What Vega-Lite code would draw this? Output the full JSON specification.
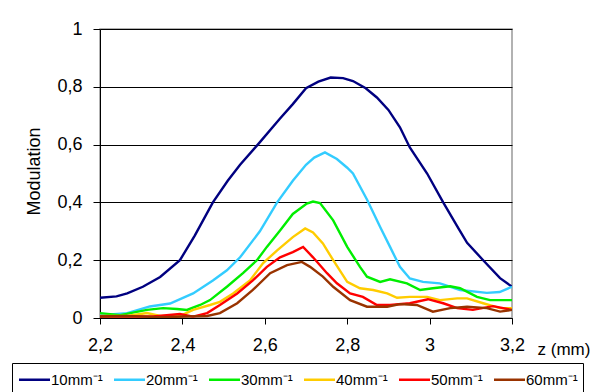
{
  "$schema": "https://vega.github.io/schema/vega-lite/v6.json",
  "width": 412,
  "height": 289,
  "autosize": {"type": "none"},
  "padding": {"left": 100, "top": 29, "right": 79, "bottom": 74},
  "background": "white",
  "config": {
    "font": "Liberation Sans",
    "view": {"stroke": "#999999", "strokeWidth": 1.5}
  },
  "datasets": {
    "d": [
      {"z": 2.200, "m": 0.070, "s": "10mm⁻¹"},
      {"z": 2.240, "m": 0.075, "s": "10mm⁻¹"},
      {"z": 2.266, "m": 0.085, "s": "10mm⁻¹"},
      {"z": 2.304, "m": 0.108, "s": "10mm⁻¹"},
      {"z": 2.346, "m": 0.142, "s": "10mm⁻¹"},
      {"z": 2.394, "m": 0.200, "s": "10mm⁻¹"},
      {"z": 2.430, "m": 0.285, "s": "10mm⁻¹"},
      {"z": 2.474, "m": 0.400, "s": "10mm⁻¹"},
      {"z": 2.510, "m": 0.475, "s": "10mm⁻¹"},
      {"z": 2.540, "m": 0.530, "s": "10mm⁻¹"},
      {"z": 2.583, "m": 0.600, "s": "10mm⁻¹"},
      {"z": 2.637, "m": 0.690, "s": "10mm⁻¹"},
      {"z": 2.668, "m": 0.740, "s": "10mm⁻¹"},
      {"z": 2.700, "m": 0.795, "s": "10mm⁻¹"},
      {"z": 2.730, "m": 0.818, "s": "10mm⁻¹"},
      {"z": 2.760, "m": 0.832, "s": "10mm⁻¹"},
      {"z": 2.790, "m": 0.830, "s": "10mm⁻¹"},
      {"z": 2.814, "m": 0.820, "s": "10mm⁻¹"},
      {"z": 2.845, "m": 0.795, "s": "10mm⁻¹"},
      {"z": 2.872, "m": 0.763, "s": "10mm⁻¹"},
      {"z": 2.900, "m": 0.720, "s": "10mm⁻¹"},
      {"z": 2.928, "m": 0.660, "s": "10mm⁻¹"},
      {"z": 2.952, "m": 0.590, "s": "10mm⁻¹"},
      {"z": 2.994, "m": 0.500, "s": "10mm⁻¹"},
      {"z": 3.033, "m": 0.400, "s": "10mm⁻¹"},
      {"z": 3.070, "m": 0.310, "s": "10mm⁻¹"},
      {"z": 3.091, "m": 0.260, "s": "10mm⁻¹"},
      {"z": 3.130, "m": 0.200, "s": "10mm⁻¹"},
      {"z": 3.171, "m": 0.138, "s": "10mm⁻¹"},
      {"z": 3.200, "m": 0.108, "s": "10mm⁻¹"},

      {"z": 2.200, "m": 0.010, "s": "20mm⁻¹"},
      {"z": 2.266, "m": 0.017, "s": "20mm⁻¹"},
      {"z": 2.321, "m": 0.040, "s": "20mm⁻¹"},
      {"z": 2.370, "m": 0.050, "s": "20mm⁻¹"},
      {"z": 2.426, "m": 0.085, "s": "20mm⁻¹"},
      {"z": 2.474, "m": 0.130, "s": "20mm⁻¹"},
      {"z": 2.508, "m": 0.165, "s": "20mm⁻¹"},
      {"z": 2.540, "m": 0.210, "s": "20mm⁻¹"},
      {"z": 2.588, "m": 0.300, "s": "20mm⁻¹"},
      {"z": 2.630, "m": 0.400, "s": "20mm⁻¹"},
      {"z": 2.668, "m": 0.475, "s": "20mm⁻¹"},
      {"z": 2.700, "m": 0.530, "s": "20mm⁻¹"},
      {"z": 2.720, "m": 0.555, "s": "20mm⁻¹"},
      {"z": 2.746, "m": 0.573, "s": "20mm⁻¹"},
      {"z": 2.775, "m": 0.550, "s": "20mm⁻¹"},
      {"z": 2.800, "m": 0.520, "s": "20mm⁻¹"},
      {"z": 2.814, "m": 0.500, "s": "20mm⁻¹"},
      {"z": 2.848, "m": 0.410, "s": "20mm⁻¹"},
      {"z": 2.880, "m": 0.315, "s": "20mm⁻¹"},
      {"z": 2.904, "m": 0.246, "s": "20mm⁻¹"},
      {"z": 2.928, "m": 0.177, "s": "20mm⁻¹"},
      {"z": 2.952, "m": 0.137, "s": "20mm⁻¹"},
      {"z": 2.984, "m": 0.125, "s": "20mm⁻¹"},
      {"z": 3.025, "m": 0.120, "s": "20mm⁻¹"},
      {"z": 3.074, "m": 0.097, "s": "20mm⁻¹"},
      {"z": 3.139, "m": 0.087, "s": "20mm⁻¹"},
      {"z": 3.170, "m": 0.090, "s": "20mm⁻¹"},
      {"z": 3.200, "m": 0.108, "s": "20mm⁻¹"},

      {"z": 2.200, "m": 0.017, "s": "30mm⁻¹"},
      {"z": 2.249, "m": 0.010, "s": "30mm⁻¹"},
      {"z": 2.314, "m": 0.028, "s": "30mm⁻¹"},
      {"z": 2.353, "m": 0.034, "s": "30mm⁻¹"},
      {"z": 2.387, "m": 0.031, "s": "30mm⁻¹"},
      {"z": 2.411, "m": 0.028, "s": "30mm⁻¹"},
      {"z": 2.443, "m": 0.045, "s": "30mm⁻¹"},
      {"z": 2.467, "m": 0.062, "s": "30mm⁻¹"},
      {"z": 2.508, "m": 0.108, "s": "30mm⁻¹"},
      {"z": 2.547, "m": 0.155, "s": "30mm⁻¹"},
      {"z": 2.581, "m": 0.200, "s": "30mm⁻¹"},
      {"z": 2.605, "m": 0.246, "s": "30mm⁻¹"},
      {"z": 2.637, "m": 0.303, "s": "30mm⁻¹"},
      {"z": 2.668, "m": 0.360, "s": "30mm⁻¹"},
      {"z": 2.702, "m": 0.396, "s": "30mm⁻¹"},
      {"z": 2.717, "m": 0.403, "s": "30mm⁻¹"},
      {"z": 2.734, "m": 0.398, "s": "30mm⁻¹"},
      {"z": 2.766, "m": 0.338, "s": "30mm⁻¹"},
      {"z": 2.800, "m": 0.246, "s": "30mm⁻¹"},
      {"z": 2.831, "m": 0.177, "s": "30mm⁻¹"},
      {"z": 2.848, "m": 0.143, "s": "30mm⁻¹"},
      {"z": 2.880, "m": 0.125, "s": "30mm⁻¹"},
      {"z": 2.904, "m": 0.134, "s": "30mm⁻¹"},
      {"z": 2.945, "m": 0.120, "s": "30mm⁻¹"},
      {"z": 2.977, "m": 0.097, "s": "30mm⁻¹"},
      {"z": 3.008, "m": 0.103, "s": "30mm⁻¹"},
      {"z": 3.050, "m": 0.110, "s": "30mm⁻¹"},
      {"z": 3.074, "m": 0.103, "s": "30mm⁻¹"},
      {"z": 3.115, "m": 0.073, "s": "30mm⁻¹"},
      {"z": 3.147, "m": 0.062, "s": "30mm⁻¹"},
      {"z": 3.200, "m": 0.062, "s": "30mm⁻¹"},

      {"z": 2.200, "m": 0.007, "s": "40mm⁻¹"},
      {"z": 2.266, "m": 0.007, "s": "40mm⁻¹"},
      {"z": 2.314, "m": 0.017, "s": "40mm⁻¹"},
      {"z": 2.346, "m": 0.007, "s": "40mm⁻¹"},
      {"z": 2.394, "m": 0.007, "s": "40mm⁻¹"},
      {"z": 2.426, "m": 0.028, "s": "40mm⁻¹"},
      {"z": 2.467, "m": 0.045, "s": "40mm⁻¹"},
      {"z": 2.491, "m": 0.056, "s": "40mm⁻¹"},
      {"z": 2.523, "m": 0.085, "s": "40mm⁻¹"},
      {"z": 2.564, "m": 0.130, "s": "40mm⁻¹"},
      {"z": 2.596, "m": 0.190, "s": "40mm⁻¹"},
      {"z": 2.630, "m": 0.234, "s": "40mm⁻¹"},
      {"z": 2.668, "m": 0.280, "s": "40mm⁻¹"},
      {"z": 2.698, "m": 0.310, "s": "40mm⁻¹"},
      {"z": 2.717, "m": 0.296, "s": "40mm⁻¹"},
      {"z": 2.741, "m": 0.258, "s": "40mm⁻¹"},
      {"z": 2.766, "m": 0.200, "s": "40mm⁻¹"},
      {"z": 2.800, "m": 0.125, "s": "40mm⁻¹"},
      {"z": 2.831, "m": 0.103, "s": "40mm⁻¹"},
      {"z": 2.863, "m": 0.097, "s": "40mm⁻¹"},
      {"z": 2.897, "m": 0.085, "s": "40mm⁻¹"},
      {"z": 2.921, "m": 0.070, "s": "40mm⁻¹"},
      {"z": 2.952, "m": 0.073, "s": "40mm⁻¹"},
      {"z": 2.994, "m": 0.073, "s": "40mm⁻¹"},
      {"z": 3.025, "m": 0.062, "s": "40mm⁻¹"},
      {"z": 3.067, "m": 0.068, "s": "40mm⁻¹"},
      {"z": 3.091, "m": 0.068, "s": "40mm⁻¹"},
      {"z": 3.130, "m": 0.051, "s": "40mm⁻¹"},
      {"z": 3.171, "m": 0.034, "s": "40mm⁻¹"},
      {"z": 3.200, "m": 0.034, "s": "40mm⁻¹"},

      {"z": 2.200, "m": 0.005, "s": "50mm⁻¹"},
      {"z": 2.266, "m": 0.005, "s": "50mm⁻¹"},
      {"z": 2.329, "m": 0.005, "s": "50mm⁻¹"},
      {"z": 2.394, "m": 0.014, "s": "50mm⁻¹"},
      {"z": 2.426, "m": 0.005, "s": "50mm⁻¹"},
      {"z": 2.460, "m": 0.017, "s": "50mm⁻¹"},
      {"z": 2.491, "m": 0.045, "s": "50mm⁻¹"},
      {"z": 2.533, "m": 0.085, "s": "50mm⁻¹"},
      {"z": 2.571, "m": 0.130, "s": "50mm⁻¹"},
      {"z": 2.605, "m": 0.177, "s": "50mm⁻¹"},
      {"z": 2.637, "m": 0.210, "s": "50mm⁻¹"},
      {"z": 2.668, "m": 0.228, "s": "50mm⁻¹"},
      {"z": 2.693, "m": 0.246, "s": "50mm⁻¹"},
      {"z": 2.717, "m": 0.210, "s": "50mm⁻¹"},
      {"z": 2.751, "m": 0.155, "s": "50mm⁻¹"},
      {"z": 2.775, "m": 0.120, "s": "50mm⁻¹"},
      {"z": 2.807, "m": 0.085, "s": "50mm⁻¹"},
      {"z": 2.838, "m": 0.073, "s": "50mm⁻¹"},
      {"z": 2.872, "m": 0.045, "s": "50mm⁻¹"},
      {"z": 2.904, "m": 0.045, "s": "50mm⁻¹"},
      {"z": 2.952, "m": 0.051, "s": "50mm⁻¹"},
      {"z": 2.996, "m": 0.065, "s": "50mm⁻¹"},
      {"z": 3.033, "m": 0.051, "s": "50mm⁻¹"},
      {"z": 3.067, "m": 0.034, "s": "50mm⁻¹"},
      {"z": 3.105, "m": 0.028, "s": "50mm⁻¹"},
      {"z": 3.154, "m": 0.041, "s": "50mm⁻¹"},
      {"z": 3.200, "m": 0.028, "s": "50mm⁻¹"},

      {"z": 2.200, "m": 0.005, "s": "60mm⁻¹"},
      {"z": 2.266, "m": 0.007, "s": "60mm⁻¹"},
      {"z": 2.346, "m": 0.003, "s": "60mm⁻¹"},
      {"z": 2.411, "m": 0.005, "s": "60mm⁻¹"},
      {"z": 2.460, "m": 0.007, "s": "60mm⁻¹"},
      {"z": 2.491, "m": 0.017, "s": "60mm⁻¹"},
      {"z": 2.533, "m": 0.051, "s": "60mm⁻¹"},
      {"z": 2.571, "m": 0.097, "s": "60mm⁻¹"},
      {"z": 2.613, "m": 0.155, "s": "60mm⁻¹"},
      {"z": 2.654, "m": 0.183, "s": "60mm⁻¹"},
      {"z": 2.690, "m": 0.194, "s": "60mm⁻¹"},
      {"z": 2.710, "m": 0.177, "s": "60mm⁻¹"},
      {"z": 2.741, "m": 0.143, "s": "60mm⁻¹"},
      {"z": 2.766, "m": 0.108, "s": "60mm⁻¹"},
      {"z": 2.807, "m": 0.062, "s": "60mm⁻¹"},
      {"z": 2.848, "m": 0.039, "s": "60mm⁻¹"},
      {"z": 2.897, "m": 0.039, "s": "60mm⁻¹"},
      {"z": 2.928, "m": 0.048, "s": "60mm⁻¹"},
      {"z": 2.969, "m": 0.045, "s": "60mm⁻¹"},
      {"z": 3.008, "m": 0.022, "s": "60mm⁻¹"},
      {"z": 3.050, "m": 0.034, "s": "60mm⁻¹"},
      {"z": 3.091, "m": 0.039, "s": "60mm⁻¹"},
      {"z": 3.139, "m": 0.034, "s": "60mm⁻¹"},
      {"z": 3.171, "m": 0.022, "s": "60mm⁻¹"},
      {"z": 3.200, "m": 0.028, "s": "60mm⁻¹"}
    ]
  },
  "data": {"name": "d"},
  "mark": {"type": "line", "strokeWidth": 2.4, "clip": true},
  "encoding": {
    "x": {
      "field": "z",
      "type": "quantitative",
      "scale": {"domain": [2.2, 3.2], "nice": false, "zero": false},
      "axis": {
        "values": [2.2, 2.4, 2.6, 2.8, 3.0, 3.2],
        "labelExpr": "replace(format(datum.value, '.1~f'), '.', ',')",
        "grid": false,
        "domainColor": "black",
        "tickColor": "black",
        "tickSize": 6,
        "labelFontSize": 18,
        "labelColor": "black",
        "labelPadding": 12,
        "labelFlush": false,
        "labelOverlap": false,
        "title": "z (mm)",
        "titleFontSize": 17,
        "titleFontWeight": "normal",
        "titleColor": "black",
        "titleX": 437,
        "titleY": 36,
        "titleAlign": "left",
        "titleBaseline": "alphabetic"
      }
    },
    "y": {
      "field": "m",
      "type": "quantitative",
      "scale": {"domain": [0, 1], "nice": false},
      "axis": {
        "values": [0, 0.2, 0.4, 0.6, 0.8, 1],
        "labelExpr": "replace(format(datum.value, '.1~f'), '.', ',')",
        "grid": true,
        "gridColor": "black",
        "gridWidth": 1,
        "domainColor": "black",
        "tickColor": "black",
        "tickSize": 7,
        "labelFontSize": 18,
        "labelColor": "black",
        "labelPadding": 11,
        "labelFlush": false,
        "labelOverlap": false,
        "title": "Modulation",
        "titleFontSize": 18,
        "titleFontWeight": "normal",
        "titleColor": "black",
        "titleAngle": -90,
        "titleX": -66,
        "titleY": 142,
        "titleAlign": "center",
        "titleBaseline": "middle"
      }
    },
    "color": {
      "field": "s",
      "type": "nominal",
      "scale": {
        "domain": ["10mm⁻¹", "20mm⁻¹", "30mm⁻¹", "40mm⁻¹", "50mm⁻¹", "60mm⁻¹"],
        "range": ["#000080", "#33CCFF", "#00EE00", "#FFCC00", "#FF0000", "#993300"]
      },
      "legend": {
        "title": null,
        "orient": "none",
        "legendX": -88,
        "legendY": 334,
        "direction": "horizontal",
        "columns": 6,
        "symbolType": "M-0.95,0H2.15",
        "symbolSize": 400,
        "symbolStrokeWidth": 2.5,
        "labelFontSize": 15,
        "labelColor": "black",
        "labelOffset": 11,
        "columnPadding": 6,
        "padding": 5,
        "strokeColor": "black",
        "fillColor": "white"
      }
    }
  }
}
